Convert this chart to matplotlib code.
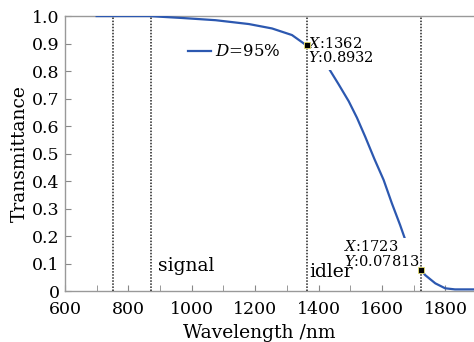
import matplotlib
matplotlib.use("Agg")
import matplotlib.pyplot as plt
import numpy as np
from matplotlib.ticker import MultipleLocator, FuncFormatter

plt.rcParams['font.family'] = ['DejaVu Serif']
plt.rcParams['mathtext.fontset'] = 'dejavuserif'

# data
wavelength = [700, 800, 865, 970, 1075, 1180, 1253, 1316, 1362, 1400, 1432, 1463, 1495,
              1521, 1547, 1576, 1605, 1631, 1657, 1681, 1700, 1723, 1736, 1768, 1799, 1830, 1890]
transmittance = [1.0, 1.0, 1.0, 0.993, 0.985, 0.971, 0.955, 0.931, 0.8932, 0.855, 0.810,
                 0.752, 0.690, 0.630, 0.561, 0.480, 0.404, 0.319, 0.24, 0.161, 0.12, 0.07813,
                 0.058, 0.028, 0.01, 0.006, 0.006]
vlines = [750, 870, 1362, 1723]
tips = [(1362, 0.8932), (1723, 0.07813)]
legend_label = r'$D$=95%'

fig = plt.figure(figsize=(4.74, 3.42), dpi=100)
ax = fig.add_axes([0.137, 0.149, 0.863, 0.804])

ax.plot(wavelength, transmittance, color='#2c58b0', lw=1.6, label=legend_label, zorder=3)
for v in vlines:
    ax.axvline(v, color='#222222', lw=1.1, ls=(0, (1, 1)), zorder=5.5)

for (x, y) in tips:
    ax.plot([x], [y], marker='s', ms=4, mfc='black', mec='#e8e070', mew=0.6, zorder=7)

ax.text(1368, 0.875, '$X$:1362\n$Y$:0.8932', fontsize=10.5, va='center', ha='left',
        linespacing=0.95, bbox=dict(facecolor='white', edgecolor='none', pad=3.5), zorder=5)
ax.text(1719, 0.135, '$X$:1723\n$Y$:0.07813', fontsize=10.5, va='center', ha='right',
        multialignment='left', linespacing=0.95,
        bbox=dict(facecolor='white', edgecolor='none', pad=0.8), zorder=5)

ax.text(893, 0.09, 'signal', fontsize=13.5, va='center', ha='left', zorder=6)
ax.text(1372, 0.07, 'idler', fontsize=13.5, va='center', ha='left', zorder=6)

ax.legend(loc='upper left', bbox_to_anchor=(0.265, 0.955), frameon=False, fontsize=12,
          handlelength=1.35, handletextpad=0.25)

ax.set_xlim(600, 1890)
ax.set_ylim(0, 1.0)
ax.xaxis.set_major_locator(MultipleLocator(200))
ax.xaxis.set_minor_locator(MultipleLocator(100))
ax.yaxis.set_major_locator(MultipleLocator(0.1))
ax.yaxis.set_major_formatter(FuncFormatter(lambda v, p: '0' if abs(v) < 1e-9 else '%.1f' % v))

ax.tick_params(axis='both', which='both', direction='in', colors='#888888', labelcolor='black',
               labelsize=12.5)
ax.tick_params(axis='x', which='major', length=4, pad=7.5)
ax.tick_params(axis='x', which='minor', length=4)
ax.tick_params(axis='y', which='major', length=4, pad=4)

for s in ['left', 'bottom', 'top']:
    ax.spines[s].set_color('#999999')
    ax.spines[s].set_linewidth(1.0)
ax.spines['right'].set_visible(False)

ax.set_xlabel('Wavelength /nm', fontsize=13.5)
ax.xaxis.set_label_coords(0.475, -0.12)
ax.set_ylabel('Transmittance', fontsize=13.5, labelpad=2)

fig.savefig('out.png', dpi=100)
